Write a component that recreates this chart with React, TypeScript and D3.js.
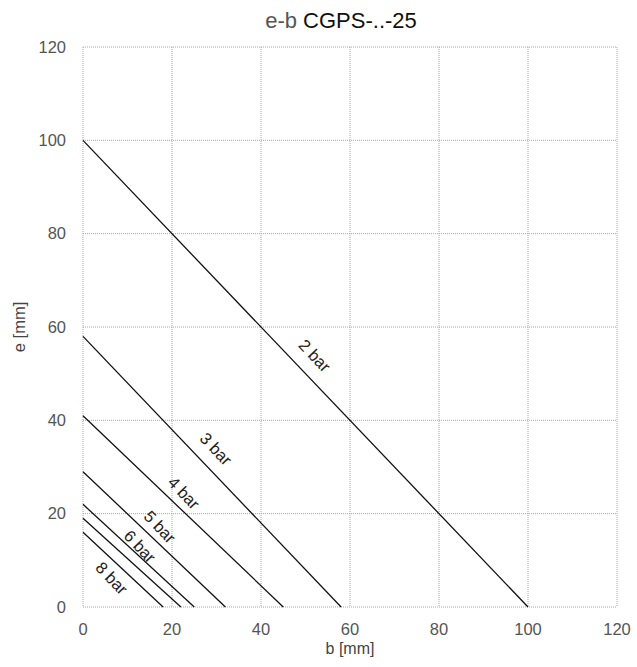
import React from "react";
import * as d3 from "d3";

const xTicks = [0, 20, 40, 60, 80, 100, 120];
const yTicks = [0, 20, 40, 60, 80, 100, 120];
// each line: e-intercept (b=0) and b-intercept (e=0)
const lineNames = ["2 bar", "3 bar", "4 bar", "5 bar", "6 bar", "7 bar", "8 bar"];
const eIntercepts = [100, 58, 41, 29, 22, 19, 16];
const bIntercepts = [100, 58, 45, 32, 25, 22, 18];
const labelTexts = ["2 bar", "3 bar", "4 bar", "5 bar", "6 bar", "8 bar"];
const labelB = [52.1, 29.9, 22.7, 17.3, 12.8, 6.5];
const labelE = [53.9, 33.9, 24.5, 17.2, 13.0, 6.2];

export default function App() {
  const W = 637, H = 667;
  const left = 83, right = 617, top = 47, bottom = 607;
  const x = d3.scaleLinear().domain([0, 120]).range([left, right]);
  const y = d3.scaleLinear().domain([0, 120]).range([bottom, top]);
  const font = "'Liberation Sans', Arial, sans-serif";
  const angle = (Math.atan2(y(0) - y(100), x(100) - x(0)) * 180) / Math.PI;
  return (
    <svg width={W} height={H} style={{ position: "absolute", left: 0, top: 0 }}>
      <rect width={W} height={H} fill="#fff" />
      {xTicks.map((t) => (
        <line key={"gx" + t} x1={x(t)} x2={x(t)} y1={top} y2={bottom} stroke="#a8a8a8" strokeWidth={1} strokeDasharray="1 1" />
      ))}
      {yTicks.map((t) => (
        <line key={"gy" + t} x1={left} x2={right} y1={y(t)} y2={y(t)} stroke="#a8a8a8" strokeWidth={1} strokeDasharray="1 1" />
      ))}
      {lineNames.map((n, i) => (
        <line
          key={n}
          x1={x(0)}
          y1={y(eIntercepts[i])}
          x2={x(bIntercepts[i])}
          y2={y(0)}
          stroke="#111"
          strokeWidth={1.3}
        />
      ))}
      {labelTexts.map((t, i) => (
        <text
          key={t}
          transform={`translate(${x(labelB[i])},${y(labelE[i])}) rotate(${angle})`}
          textAnchor="middle"
          dominantBaseline="central"
          fontFamily={font}
          fontSize={16.5}
          fill="#222"
        >
          {t}
        </text>
      ))}
      {xTicks.map((t) => (
        <text key={"tx" + t} x={x(t)} y={bottom + 28} textAnchor="middle" fontFamily={font} fontSize={16.5} fill="#555">
          {t}
        </text>
      ))}
      {yTicks.map((t) => (
        <text key={"ty" + t} x={left - 17} y={y(t)} dy="0.35em" textAnchor="end" fontFamily={font} fontSize={16.5} fill="#555">
          {t}
        </text>
      ))}
      <text x={x(60)} y={654} textAnchor="middle" fontFamily={font} fontSize={16} fill="#444">
        b [mm]
      </text>
      <text transform={`translate(25,${y(60)}) rotate(-90)`} textAnchor="middle" fontFamily={font} fontSize={16.5} fill="#444">
        e [mm]
      </text>
      <text x={341} y={28} textAnchor="middle" fontFamily={font} fontSize={22}>
        <tspan fill="#555">e-b </tspan>
        <tspan fill="#111">CGPS-..-25</tspan>
      </text>
    </svg>
  );
}
